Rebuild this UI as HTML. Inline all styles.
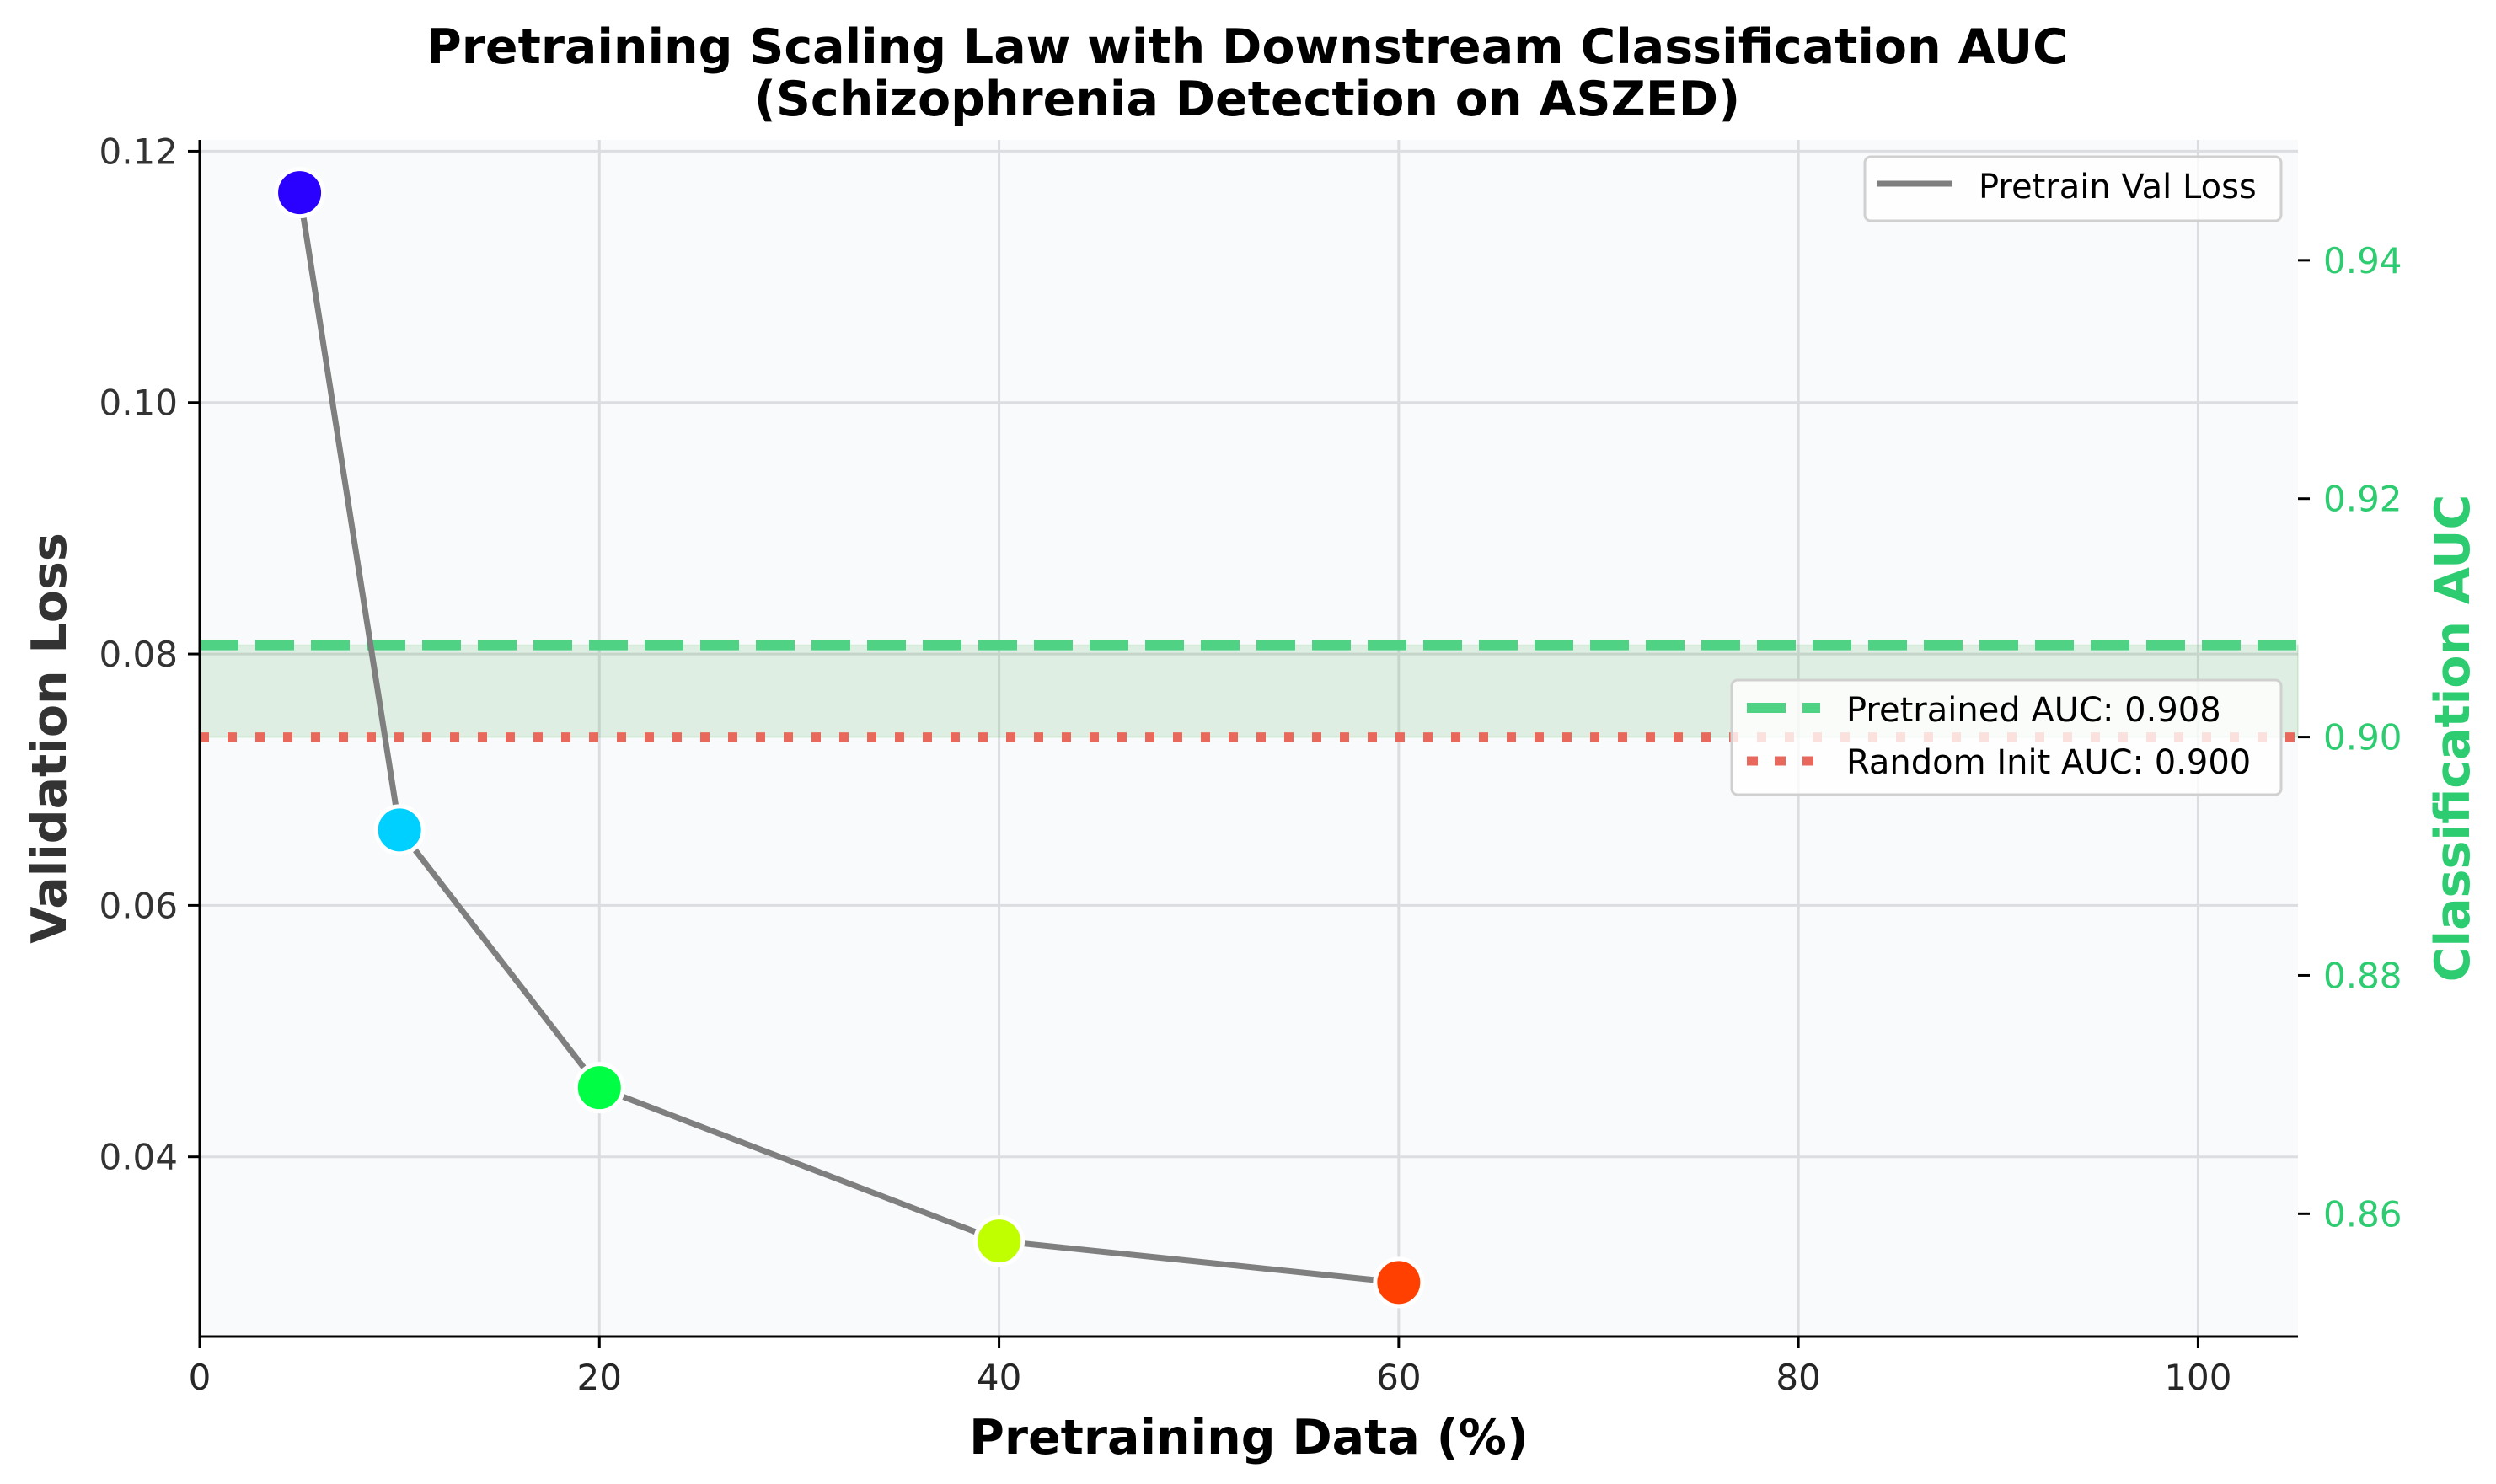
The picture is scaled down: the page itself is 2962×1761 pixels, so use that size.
<!DOCTYPE html>
<html><head><meta charset="utf-8"><style>
html,body{margin:0;padding:0;background:#fff;}
svg{display:block;font-family:"DejaVu Sans","Liberation Sans",sans-serif;}
</style></head><body>
<svg id="chart" width="2962" height="1761" viewBox="0 0 2962 1761" xmlns="http://www.w3.org/2000/svg">
<rect x="0" y="0" width="2962" height="1761" fill="#fff"/>
<g id="plot"></g>
</svg>
<script>
const xValues = [5, 10, 20, 40, 60];
const lossValues = [0.1167, 0.0660, 0.0455, 0.0333, 0.0300];
const pointColors = ["#2a00ff", "#00d0ff", "#00ff44", "#c0ff00", "#ff4000"];
const xTicks = [0, 20, 40, 60, 80, 100];
const yTicks = [0.04, 0.06, 0.08, 0.10, 0.12];
const yTickLabels = ["0.04", "0.06", "0.08", "0.10", "0.12"];
const y2Ticks = [0.86, 0.88, 0.90, 0.92, 0.94];
const y2TickLabels = ["0.86", "0.88", "0.90", "0.92", "0.94"];
const pretrainedAUC = [0.9077];
const randomAUC = [0.900];

const L = 237, R = 2727, T = 166, B = 1586;
const xMin = 0, xMax = 105, yMin = 0.0257, yMax = 0.1209, y2Min = 0.8497, y2Max = 0.9501;
const sx = v => L + (v - xMin) / (xMax - xMin) * (R - L);
const sy = v => B - (v - yMin) / (yMax - yMin) * (B - T);
const sy2 = v => B - (v - y2Min) / (y2Max - y2Min) * (B - T);

const NS = "http://www.w3.org/2000/svg";
const g = document.getElementById("plot");
function mk(tag, attrs, parent, text) {
  const e = document.createElementNS(NS, tag);
  for (const k in attrs) e.setAttribute(k, attrs[k]);
  if (text !== undefined) e.textContent = text;
  (parent || g).appendChild(e);
  return e;
}

let e = mk("rect", {x: L, y: T, width: R - L, height: B - T, fill: "#f8fafc"});



xTicks.forEach(t => {
  const l = mk("line", {x1: sx(t), x2: sx(t), y1: T, y2: B, stroke: "#dcdde0", "stroke-width": 3});
  
  
});
yTicks.forEach(t => {
  const l = mk("line", {x1: L, x2: R, y1: sy(t), y2: sy(t), stroke: "#dcdde0", "stroke-width": 3});
  
  
});

e = mk("rect", {x: L, y: sy2(pretrainedAUC[0]), width: R - L, height: sy2(randomAUC[0]) - sy2(pretrainedAUC[0]), fill: "#2ca02c", "fill-opacity": 0.12, stroke: "#2ca02c", "stroke-opacity": 0.12, "stroke-width": 2});



e = mk("line", {x1: L, x2: R, y1: sy2(pretrainedAUC[0]), y2: sy2(pretrainedAUC[0]), stroke: "#4fd283", "stroke-width": 12, "stroke-dasharray": "46 20"});


e = mk("line", {x1: L, x2: R, y1: sy2(randomAUC[0]), y2: sy2(randomAUC[0]), stroke: "#e8695c", "stroke-width": 11, "stroke-dasharray": "11 22"});



e = mk("polyline", {points: xValues.map((x, i) => sx(x) + "," + sy(lossValues[i])).join(" "), fill: "none", stroke: "#7f7f7f", "stroke-width": 7, "stroke-linejoin": "round"});


xValues.forEach((x, i) => {
  const c = mk("circle", {cx: sx(x), cy: sy(lossValues[i]), r: 28, fill: pointColors[i], stroke: "#fff", "stroke-width": 5});
  
  
});

e = mk("line", {x1: L, x2: L, y1: T, y2: B + 1.5, stroke: "#000", "stroke-width": 3});


e = mk("line", {x1: L - 1.5, x2: R, y1: B, y2: B, stroke: "#000", "stroke-width": 3});



xTicks.forEach(t => {
  const l = mk("line", {x1: sx(t), x2: sx(t), y1: B, y2: B + 14, stroke: "#000", "stroke-width": 3});
  
  
  const s = mk("text", {x: sx(t), y: B + 63, "font-size": 42, fill: "#262626", "text-anchor": "middle"}, g, String(t));
  
  
});
yTicks.forEach((t, i) => {
  const l = mk("line", {x1: L - 14, x2: L, y1: sy(t), y2: sy(t), stroke: "#000", "stroke-width": 3});
  
  
  const s = mk("text", {x: L - 26, y: sy(t) + 15, "font-size": 42, fill: "#333", "text-anchor": "end"}, g, yTickLabels[i]);
  
  
});
y2Ticks.forEach((t, i) => {
  const l = mk("line", {x1: R, x2: R + 14, y1: sy2(t), y2: sy2(t), stroke: "#000", "stroke-width": 3});
  
  
  const s = mk("text", {x: R + 30, y: sy2(t) + 15, "font-size": 42, fill: "#2ecc71", "text-anchor": "start"}, g, y2TickLabels[i]);
  
  
});

e = mk("text", {x: 1480, y: 75, "font-size": 57, "font-weight": "bold", fill: "#000", "text-anchor": "middle"}, g, "Pretraining Scaling Law with Downstream Classification AUC");


e = mk("text", {x: 1480, y: 137, "font-size": 57, "font-weight": "bold", fill: "#000", "text-anchor": "middle"}, g, "(Schizophrenia Detection on ASZED)");


e = mk("text", {x: sx(52.5), y: 1725, "font-size": 57, "font-weight": "bold", fill: "#000", "text-anchor": "middle"}, g, "Pretraining Data (%)");


e = mk("text", {x: 0, y: 0, "font-size": 57, "font-weight": "bold", fill: "#333", "text-anchor": "middle", transform: "translate(78," + ((T + B) / 2) + ") rotate(-90)"}, g, "Validation Loss");


e = mk("text", {x: 0, y: 0, "font-size": 57, "font-weight": "bold", fill: "#2ecc71", "text-anchor": "middle", transform: "translate(2930," + ((T + B) / 2) + ") rotate(-90)"}, g, "Classification AUC");



const lg1 = mk("g", {});


mk("rect", {x: 2213, y: 186, width: 494, height: 76, rx: 7, fill: "#fff", "fill-opacity": 0.8, stroke: "#d0d0d0", "stroke-width": 3}, lg1);
mk("line", {x1: 2227, x2: 2317, y1: 218, y2: 218, stroke: "#7f7f7f", "stroke-width": 7}, lg1);
e = mk("text", {x: 2348, y: 235, "font-size": 40, fill: "#000"}, lg1, "Pretrain Val Loss");



const lg2 = mk("g", {});


mk("rect", {x: 2055, y: 807, width: 652, height: 136, rx: 7, fill: "#fff", "fill-opacity": 0.8, stroke: "#d0d0d0", "stroke-width": 3}, lg2);
mk("line", {x1: 2073, x2: 2160, y1: 840, y2: 840, stroke: "#4fd283", "stroke-width": 12, "stroke-dasharray": "46 20"}, lg2);
mk("line", {x1: 2073, x2: 2160, y1: 903, y2: 903, stroke: "#e8695c", "stroke-width": 11, "stroke-dasharray": "13 20"}, lg2);
e = mk("text", {x: 2191, y: 856, "font-size": 40, fill: "#000"}, lg2, "Pretrained AUC: 0.908");


e = mk("text", {x: 2191, y: 918, "font-size": 40, fill: "#000"}, lg2, "Random Init AUC: 0.900");


</script>
</body></html>
